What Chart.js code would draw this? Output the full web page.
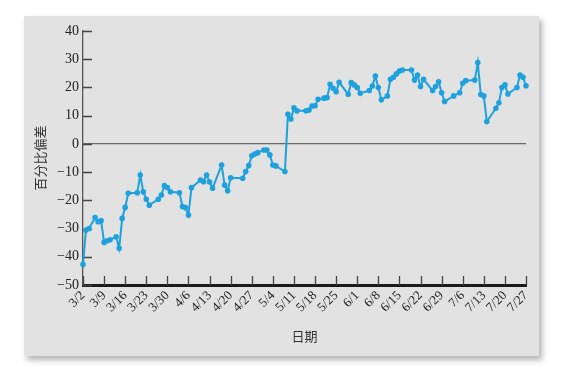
<!DOCTYPE html>
<html>
<head>
<meta charset="utf-8">
<script src="https://cdn.jsdelivr.net/npm/chart.js@4.4.1/dist/chart.umd.min.js"></script>
<style>
  html, body { margin: 0; padding: 0; background: #fff; }
  #wrap { position: relative; width: 566px; height: 375px; overflow: hidden; }
  #card {
    position: absolute; left: 24px; top: 16px; width: 515px; height: 340px;
    background: #e2e2e2; box-shadow: 3px 4px 6px rgba(0, 0, 0, 0.3);
  }
  #chart { position: absolute; left: 0; top: 0; }
</style>
</head>
<body>
<div id="wrap">
  <div id="card"></div>
  <canvas id="chart" width="566" height="375"></canvas>
</div>
<script>
// days counted from 3/2, and the percent deviation
const days = [
  0, 1, 2, 4, 5, 6, 7, 8, 9, 11, 12, 13, 14, 15, 18, 19, 20, 21, 22,
  25, 26, 27, 28, 29, 32, 33, 34, 35, 36, 39, 40, 41, 42, 43,
  46, 47, 48, 49, 53, 54, 55, 56, 57, 58, 60, 61, 62, 63, 64,
  67, 68, 69, 70, 71, 74, 75, 76, 77, 78, 80, 81, 82, 83, 84, 85,
  88, 89, 90, 91, 92, 95, 96, 97, 98, 99, 101, 102, 103, 104, 105, 106,
  109, 110, 111, 112, 113, 116, 117, 118, 119, 120, 123, 125, 126, 127,
  130, 131, 132, 133, 134, 137, 138, 139, 140, 141, 144, 145, 146, 147
];
const deviation = [
  -42.7, -30.5, -30, -26.1, -27.6, -27.2, -34.9, -34.3, -34, -32.9, -37, -26.4, -22.5, -17.5, -17.3, -11, -17, -19.6, -21.7,
  -19.6, -18.1, -14.8, -15.5, -17, -17.3, -22.2, -22.6, -25.2, -15.5, -12.8, -13.4, -11, -13.5, -15.7,
  -7.5, -14.6, -16.6, -12, -12.2, -9.8, -7.7, -4.2, -3.6, -3.1, -2.2, -2.2, -3.9, -7.5, -7.8,
  -9.8, 10.5, 8.8, 12.8, 11.7, 11.7, 12, 13.4, 13.5, 15.8, 16.2, 16.4, 21.1, 19.7, 18.5, 21.8,
  17.6, 21.7, 20.9, 20, 17.9, 18.9, 20.5, 24, 20, 15.6, 17, 22.9, 23.6, 24.8, 25.8, 26.2,
  26.2, 22.6, 24.4, 20.3, 22.9, 18.9, 20.3, 22, 18.1, 15, 17, 18.1, 21.5, 22.4,
  22.6, 28.8, 17.5, 17, 7.9, 12.6, 14.6, 20, 20.9, 17.7, 20, 24.4, 23.6, 20.6
];
// one label per week
const weekLabels = [
  '3/2', '3/9', '3/16', '3/23', '3/30', '4/6', '4/13', '4/20', '4/27', '5/4', '5/11',
  '5/18', '5/25', '6/1', '6/8', '6/15', '6/22', '6/29', '7/6', '7/13', '7/20', '7/27'
];
const yTitle = '百分比偏差';
const xTitle = '日期';

const points = days.map((d, i) => ({ x: d, y: deviation[i] }));

// tick marks point into the plot, so draw them by hand
const inwardTicks = {
  id: 'inwardTicks',
  beforeDatasetsDraw(chart) {
    const ctx = chart.ctx;
    const area = chart.chartArea;
    const xs = chart.scales.x;
    const ys = chart.scales.y;
    ctx.save();
    ctx.strokeStyle = '#444';
    ctx.lineWidth = 1.3;
    ctx.beginPath();
    ys.ticks.forEach(t => {
      const py = Math.round(ys.getPixelForValue(t.value)) + 0.5;
      ctx.moveTo(area.left, py);
      ctx.lineTo(area.left + 9, py);
    });
    xs.ticks.forEach(t => {
      const px = Math.round(xs.getPixelForValue(t.value)) + 0.5;
      ctx.moveTo(px, area.bottom);
      ctx.lineTo(px, area.bottom - 9);
    });
    ctx.stroke();
    ctx.restore();
  }
};

const serif = "'Liberation Serif', 'Times New Roman', serif";
const cjk = "'Noto Sans CJK SC', sans-serif";

const ctx = document.getElementById('chart').getContext('2d');
new Chart(ctx, {
  type: 'line',
  data: {
    datasets: [
      {
        data: points,
        borderColor: '#1ea1dd',
        backgroundColor: '#1ea1dd',
        borderWidth: 2,
        pointRadius: 1.8,
        pointStyle: 'circle',
        tension: 0,
        fill: false,
        clip: false,
      },
    ],
  },
  options: {
    responsive: false,
    animation: false,
    layout: { padding: { top: 31, right: 40, bottom: 0, left: 0 } },
    plugins: {
      legend: { display: false },
      tooltip: { enabled: false },
    },
    scales: {
      x: {
        type: 'linear',
        min: 0,
        max: 147,
        afterFit: scale => { scale.height = 90; },
        ticks: {
          stepSize: 7,
          autoSkip: false,
          maxRotation: 45,
          minRotation: 45,
          padding: 3,
          color: '#222',
          font: { family: serif, size: 13 },
          callback: v => weekLabels[Math.round(v / 7)],
        },
        grid: { display: false, drawTicks: false },
        border: { display: true, color: '#1a1a1a', width: 3 },
        title: {
          display: true,
          text: xTitle,
          color: '#333',
          font: { family: cjk, size: 13 },
          padding: { top: 0, bottom: 31 },
        },
      },
      y: {
        min: -50,
        max: 40,
        afterFit: scale => { scale.width = 83; },
        ticks: {
          stepSize: 10,
          padding: 4,
          color: '#222',
          font: { family: serif, size: 14 },
          callback: v => (v < 0 ? '\u2212' + Math.abs(v) : String(v)),
        },
        grid: {
          drawTicks: false,
          color: c => (c.tick && c.tick.value === 0 ? '#6a6a6a' : 'rgba(0,0,0,0)'),
          lineWidth: 1.2,
        },
        border: { display: true, color: '#555', width: 1.3 },
        title: {
          display: true,
          text: yTitle,
          color: '#333',
          font: { family: cjk, size: 13 },
          padding: { top: 32, bottom: 0 },
        },
      },
    },
  },
  plugins: [inwardTicks],
});
</script>
</body>
</html>
